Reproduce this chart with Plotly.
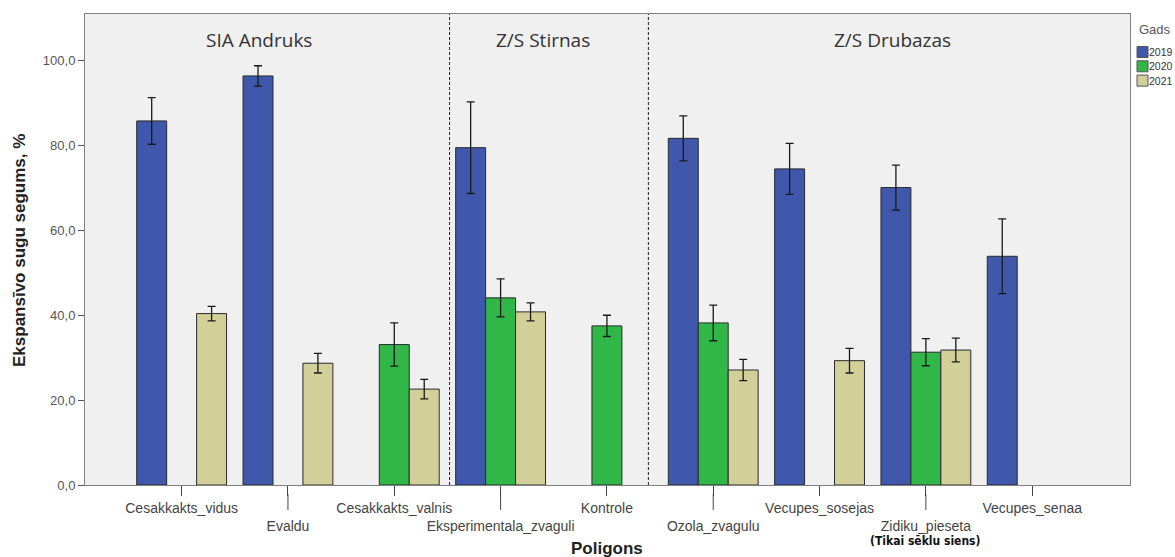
import plotly.graph_objects as go

# ---------------- data ----------------
categories = ["Cesakkakts_vidus", "Evaldu", "Cesakkakts_valnis", "Eksperimentala_zvaguli",
              "Kontrole", "Ozola_zvagulu", "Vecupes_sosejas", "Zidiku_pieseta", "Vecupes_senaa"]
label_row = [0, 1, 0, 1, 0, 1, 0, 1, 0]   # 0 = upper row, 1 = lower row

years = ["2019", "2020", "2021"]
values_2019 = [85.8, 96.4, None, 79.5, None, 81.7, 74.5, 70.1, 53.9]
errors_2019 = [5.5, 2.4, None, 10.8, None, 5.3, 6.0, 5.3, 8.8]
values_2020 = [None, None, 33.1, 44.1, 37.5, 38.2, None, 31.3, None]
errors_2020 = [None, None, 5.1, 4.5, 2.5, 4.2, None, 3.2, None]
values_2021 = [40.4, 28.7, 22.6, 40.8, None, 27.1, 29.3, 31.8, None]
errors_2021 = [1.7, 2.3, 2.3, 2.1, None, 2.5, 2.9, 2.8, None]

y_ticks = [0, 20, 40, 60, 80, 100]
y_ticktext = ["0,0", "20,0", "40,0", "60,0", "80,0", "100,0"]

groups = ["SIA Andruks", "Z/S Stirnas", "Z/S Drubazas"]
note_text = "(Tikai sēklu siens)"
note_category = "Zidiku_pieseta"

x_title = "Poligons"
y_title = "Ekspansīvo sugu segums, %"
legend_title = "Gads"

# ---------------- styling / layout ----------------
colors = ["#3f58ab", "#30b748", "#d3cf98"]
W, H = 1175, 557
PLOT_L, PLOT_R, PLOT_T, PLOT_B = 85, 1130, 14, 485   # page pixels
ML, MR, MT, MB = PLOT_L, W - PLOT_R, PLOT_T, H - PLOT_B
PW, PH = W - ML - MR, H - MT - MB


def px_x(px):
    return (px - PLOT_L) / PW


def px_y(py):
    return (PLOT_B - py) / PH


fig = go.Figure()
series = [(values_2019, errors_2019), (values_2020, errors_2020), (values_2021, errors_2021)]
for yr, (vals, errs), col in zip(years, series, colors):
    fig.add_trace(go.Bar(
        name=yr, x=categories, y=vals,
        marker=dict(color=col, line=dict(color="#2a2a2a", width=1)),
        error_y=dict(type="data", array=errs, visible=True, color="#1a1a1a",
                     thickness=1.3, width=4),
        showlegend=False,
    ))

ticktext = [("<br>" + c) if r else c for c, r in zip(categories, label_row)]

fig.update_layout(
    width=W, height=H,
    margin=dict(l=ML, r=MR, t=MT, b=MB, autoexpand=False),
    paper_bgcolor="white", plot_bgcolor="#f0f0f0",
    barmode="group", bargap=0.155, bargroupgap=0,
    font=dict(family="Liberation Sans, Arial, sans-serif", color="#444"),
    xaxis=dict(
        type="category", range=[-0.909, 8.92],
        tickmode="array", tickvals=categories, ticktext=ticktext, tickangle=0,
        ticks="outside", ticklen=10, tickcolor="#444", tickwidth=1,
        tickfont=dict(size=14, color="#444"),
        showline=True, linecolor="#808080", linewidth=1, mirror=True,
        showgrid=False, zeroline=False,
    ),
    yaxis=dict(
        range=[0, 111], tickmode="array", tickvals=y_ticks, ticktext=y_ticktext,
        ticks="outside", ticklen=6, tickcolor="#555", tickwidth=1,
        tickfont=dict(size=13, color="#555"),
        showline=True, linecolor="#808080", linewidth=1, mirror=True,
        showgrid=False, zeroline=False,
    ),
)

shapes = []
# longer tick marks for lower-row labels
for c, r in zip(categories, label_row):
    if r:
        shapes.append(dict(type="line", xref="x", yref="paper", x0=c, x1=c,
                           y0=px_y(PLOT_B + 9), y1=px_y(PLOT_B + 25),
                           line=dict(color="#444", width=1)))
# dashed separators between the groups
for xs in [2.52, 4.39]:
    shapes.append(dict(type="line", xref="x", yref="paper", x0=xs, x1=xs, y0=0, y1=1,
                       line=dict(color="#222", width=1, dash="3px,2px")))

annotations = []
# group headings
for g, xg in zip(groups, [0.73, 3.40, 6.69]):
    annotations.append(dict(text=g, xref="x", yref="paper", x=xg, y=px_y(40),
                            showarrow=False, xanchor="center", yanchor="middle",
                            font=dict(family="Open Sans, sans-serif", size=19, color="#333")))
# axis titles
annotations.append(dict(text="<b>" + x_title + "</b>", xref="paper", yref="paper",
                        x=px_x(607), y=px_y(548), showarrow=False, xanchor="center", yanchor="middle",
                        font=dict(size=17, color="#222")))
annotations.append(dict(text="<b>" + y_title + "</b>", xref="paper", yref="paper",
                        x=px_x(19), y=px_y(251), showarrow=False, textangle=-90,
                        xanchor="center", yanchor="middle",
                        font=dict(size=17, color="#222")))
# note under Zidiku_pieseta
annotations.append(dict(text="<b>" + note_text + "</b>", xref="x", yref="paper",
                        x=note_category, y=px_y(541), showarrow=False,
                        xanchor="center", yanchor="middle",
                        font=dict(family="Liberation Sans Narrow, DejaVu Sans Condensed, sans-serif",
                                  size=12, color="#111")))
# manual legend
annotations.append(dict(text=legend_title, xref="paper", yref="paper", x=px_x(1139), y=px_y(30),
                        showarrow=False, xanchor="left", yanchor="middle", xshift=-2,
                        font=dict(size=13, color="#555")))
for i, (yr, col) in enumerate(zip(years, colors)):
    cy = 52 + i * 14.3
    shapes.append(dict(type="rect", xref="paper", yref="paper",
                       x0=px_x(1137), x1=px_x(1148), y0=px_y(cy - 5.5), y1=px_y(cy + 5.5),
                       fillcolor=col, line=dict(color="#555", width=1)))
    annotations.append(dict(text=yr, xref="paper", yref="paper", x=px_x(1147), y=px_y(cy),
                            showarrow=False, xanchor="left", yanchor="middle",
                            font=dict(size=10.5, color="#333")))

fig.update_layout(shapes=shapes, annotations=annotations)
fig.write_html("out.html", config={"displayModeBar": False},
               post_script="document.body.style.margin='0';document.body.style.overflow='hidden';")
